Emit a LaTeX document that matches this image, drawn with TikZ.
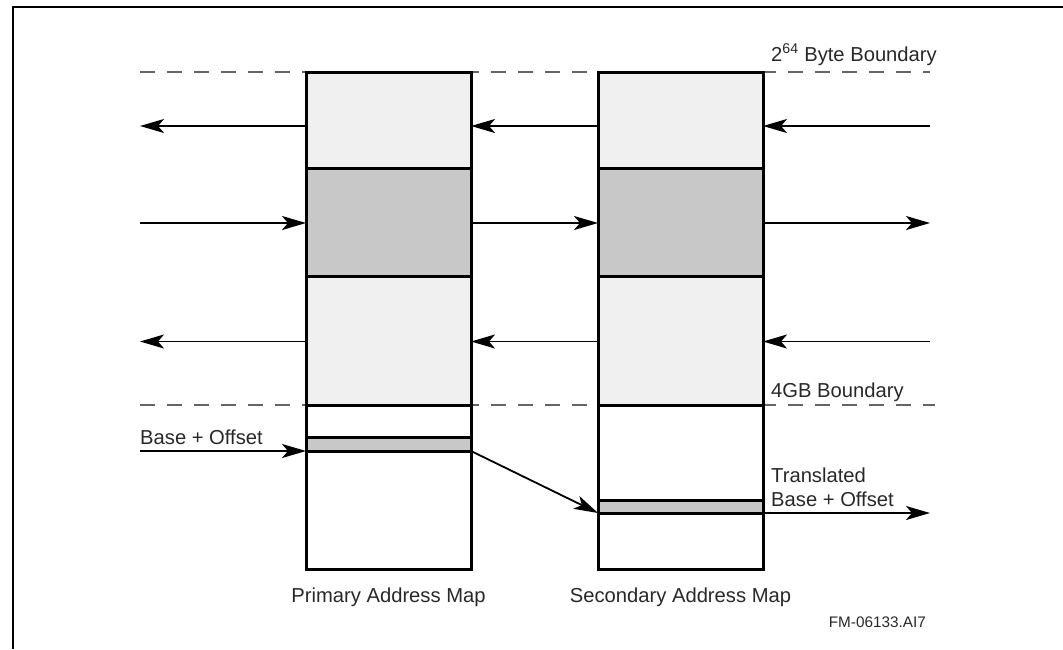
\documentclass[tikz,border=0pt]{standalone}
\usepackage{fontspec}
\setmainfont{Liberation Sans}
\usetikzlibrary{arrows.meta,calc}
\definecolor{lightgrey}{RGB}{240,240,240}
\definecolor{midgrey}{RGB}{200,200,200}
\definecolor{dashgrey}{RGB}{100,100,100}
\definecolor{textgrey}{RGB}{40,40,40}

\begin{document}
\begin{tikzpicture}[x=1pt,y=-1pt]

\useasboundingbox (0,0) rectangle (1063,649);

\tikzstyle{region}=[draw,line width=3pt,minimum width=165pt,inner sep=0pt,outer sep=0pt,anchor=north west]
\tikzstyle{lightfill}=[region,fill=lightgrey]
\tikzstyle{darkfill}=[region,fill=midgrey]
\tikzstyle{whitefill}=[region,fill=white]
\tikzstyle{arr}=[line width=1.8pt,-{Stealth[length=24pt,width=14pt,inset=6pt]}]
\tikzstyle{boundary}=[dashgrey,line width=1.8pt,dash pattern=on 15pt off 12pt]
\tikzstyle{txt}=[font=\fontsize{20.2}{24}\selectfont,text=textgrey,inner sep=0pt]

% FRAME
\draw [line width=2.5pt] (13,649) -- (13,7) -- (1063,7);

% BOUNDARIES
\draw [boundary] (140,72) -- (930,72);
\draw [boundary] (140,405) -- (935,405);

% PRIMARY MAP
\node (P1) [lightfill,minimum height=96.5pt] at (306,72) {};
\node (P2) [darkfill,minimum height=107.5pt] at (P1.south west) {};
\node (P3) [lightfill,minimum height=129pt] at (P2.south west) {};
\node (P4) [whitefill,minimum height=164pt] at (P3.south west) {};
\node (PB) [darkfill,minimum height=14pt] at ($(P4.north west)+(0,32)$) {};

% SECONDARY MAP
\node (S1) [lightfill,minimum height=96.5pt] at (598,72) {};
\node (S2) [darkfill,minimum height=107.5pt] at (S1.south west) {};
\node (S3) [lightfill,minimum height=129pt] at (S2.south west) {};
\node (S4) [whitefill,minimum height=164pt] at (S3.south west) {};
\node (SB) [darkfill,minimum height=13pt] at ($(S4.north west)+(0,95)$) {};

% FREE ENDS
\coordinate (l1) at (140,126);
\coordinate (r1) at (930,126);
\coordinate (l2) at (140,223);
\coordinate (r2) at (930,223);
\coordinate (l3) at (140,341.5);
\coordinate (r3) at (930,341.5);
\coordinate (lb) at (140,451);
\coordinate (rt) at (930,513);

% ARROWS
\draw [arr] (P1.west |- l1) -- (l1);
\draw [arr] (S1.west |- l1) -- (P1.east |- l1);
\draw [arr] (r1) -- (S1.east |- r1);

\draw [arr] (l2) -- (P2.west |- l2);
\draw [arr] (P2.east |- l2) -- (S2.west |- l2);
\draw [arr] (S2.east |- l2) -- (r2);

\draw [arr] (P3.west |- l3) -- (l3);
\draw [arr] (S3.west |- l3) -- (P3.east |- l3);
\draw [arr] (r3) -- (S3.east |- r3);

\draw [arr] (lb) -- (PB.south west);
\draw [arr] (PB.south east) -- (SB.south west);
\draw [arr] (SB.south east) -- (rt);

% LABELS
\node (top) [txt,anchor=base west] at (771,61) {2\textsuperscript{64} Byte Boundary};
\node (fourgb) [txt,anchor=base west] at (771,397) {4GB Boundary};
\node (base) [txt,anchor=base west] at (140,444) {Base + Offset};
\node (trans) [txt,anchor=base west] at (771,482) {Translated};
\node (tbase) [txt,anchor=base west] at (771,506) {Base + Offset};
\node (pname) [txt,anchor=base] at ($(P4.south)+(0,33)$) {Primary Address Map};
\node (sname) [txt,anchor=base] at ($(S4.south)+(0,33)$) {Secondary Address Map};
\node (fig) [txt,font=\fontsize{15.3}{18}\selectfont,anchor=base east] at (926,627) {FM-06133.AI7};

\end{tikzpicture}
\end{document}
